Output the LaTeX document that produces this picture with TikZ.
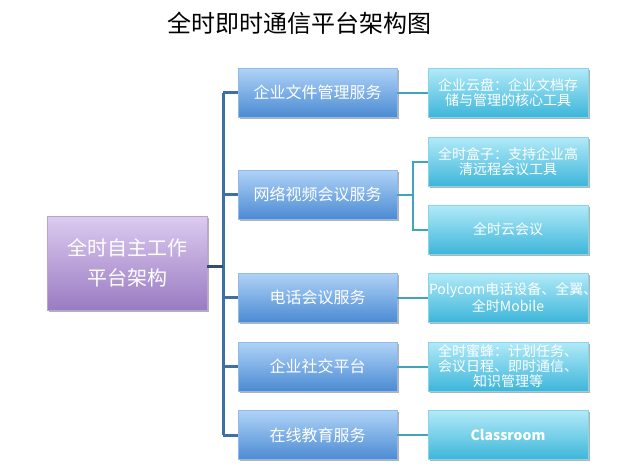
\documentclass[tikz,border=0pt]{standalone}
\usepackage{fontspec}
\setmainfont{Noto Sans CJK SC}
\usetikzlibrary{shadows}
\definecolor{rootTop}{HTML}{DCCBF0}
\definecolor{rootBot}{HTML}{9A7BC2}
\definecolor{midTop}{HTML}{AFD3F7}
\definecolor{midBot}{HTML}{4C8BD3}
\definecolor{leafTop}{HTML}{B2EAF8}
\definecolor{leafBot}{HTML}{3DB6DA}
\definecolor{trunkCol}{HTML}{3E70A2}
\definecolor{stubCol}{HTML}{2E4F70}
\definecolor{leafLine}{HTML}{3FA6B8}
\tikzset{
  boxbase/.style={inner sep=0pt, align=center, text=white,
    drop shadow={shadow xshift=1.5pt, shadow yshift=-1.5pt, opacity=0.3, fill=black}},
  rootbox/.style={boxbase, minimum width=160pt, minimum height=94pt,
    top color=rootTop, bottom color=rootBot, draw=rootBot!70!white, line width=0.6pt,
    font=\fontsize{20}{30}\selectfont},
  midbox/.style={boxbase, minimum width=159pt, minimum height=49pt,
    top color=midTop, bottom color=midBot, draw=midBot!60!white, line width=0.5pt,
    font=\fontsize{16}{18}\selectfont},
  leafbox/.style={boxbase, minimum width=160pt, minimum height=49pt, text width=158pt,
    top color=leafTop, bottom color=leafBot, draw=leafBot!60!white, line width=0.5pt,
    font=\fontsize{14}{15}\selectfont},
  trunk/.style={draw=trunkCol, line width=3pt},
  stub/.style={draw=stubCol, line width=3pt},
  leafconn/.style={draw=leafLine, line width=2pt},
}
\begin{document}
\begin{tikzpicture}[x=1pt,y=-1pt]
\useasboundingbox (0,0) rectangle (636,474);
\fill[white] (0,0) rectangle (636,474);

\node[font=\fontsize{24}{26}\selectfont, text=black] (title) at (299,23) {全时即时通信平台架构图};

\node[rootbox] (root) at (127,263) {全时自主工作\\平台架构};

\node[midbox] (m1) at (317.5,92.5) {企业文件管理服务};
\node[midbox] (m2) at (317.5,194.5) {网络视频会议服务};
\node[midbox] (m3) at (317.5,297.5) {电话会议服务};
\node[midbox] (m4) at (317.5,366.5) {企业社交平台};
\node[midbox] (m5) at (317.5,435) {在线教育服务};

\node[leafbox] (l1) at (508,92.5) {企业云盘：企业文档存\\储与管理的核心工具};
\node[leafbox] (l2) at (508,161.5) {全时盒子：支持企业高\\清远程会议工具};
\node[leafbox] (l3) at (508,229.5) {全时云会议};
\node[leafbox] (l4) at (508,297.5) {Polycom电话设备、全翼、\\全时Mobile};
\node[leafbox] (l5) at (508,366.5) {全时蜜蜂：计划任务、\\会议日程、即时通信、\\知识管理等};
\node[leafbox, font=\fontsize{14}{15}\selectfont\bfseries] (l6) at (508,435) {Classroom};

\coordinate (tTop) at (223,92.5);
\coordinate (tBot) at (223,435);
\coordinate (tMid) at (223,266);
\coordinate (j2) at (413,194.5);

% trunk
\draw[trunk] (tTop) -- (tBot);
\draw[trunk] (tTop) -- (m1.west);
\draw[trunk] (m2.west -| tTop) -- (m2.west);
\draw[trunk] (m3.west -| tTop) -- (m3.west);
\draw[trunk] (m4.west -| tTop) -- (m4.west);
\draw[trunk] (tBot) -- (m5.west);
\draw[stub] (root.east |- tMid) -- (tMid);

% leaf connectors
\draw[leafconn] (m1.east) -- (l1.west);
\draw[leafconn] (m2.east) -- (j2);
\draw[leafconn] (l2.west) -| (j2) |- (l3.west);
\draw[leafconn] (m3.east) -- (l4.west);
\draw[leafconn] (m4.east) -- (l5.west);
\draw[leafconn] (m5.east) -- (l6.west);
\end{tikzpicture}
\end{document}
